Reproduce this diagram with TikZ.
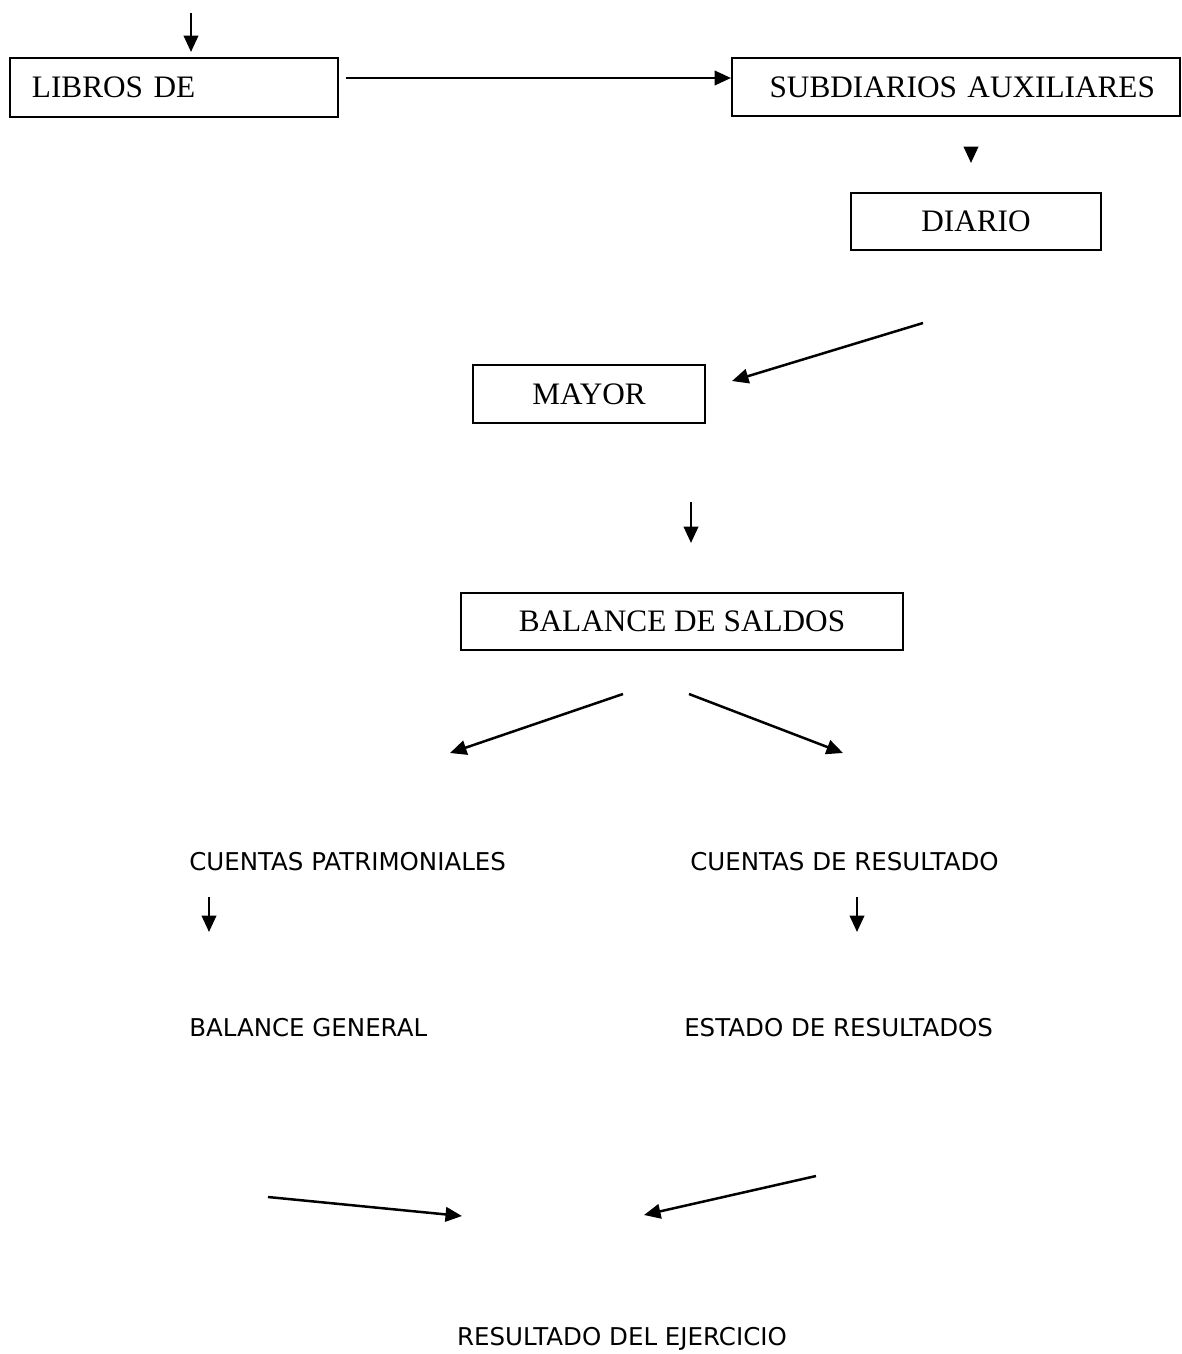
\documentclass[tikz,border=0pt]{standalone}
\usepackage{fontspec}
\setmainfont{Liberation Serif}
\newfontfamily\verdana{DejaVu Sans}
\usetikzlibrary{arrows.meta}

\tikzset{
  caja/.style={draw, line width=0.8pt, inner sep=0pt, font=\fontsize{12.5}{15}\selectfont},
  rotulo/.style={inner sep=0pt, anchor=west, font=\verdana\fontsize{9.8}{12}\selectfont},
}

\begin{document}
\begin{tikzpicture}[x=0.4pt, y=-0.4pt, >={Triangle[length=6.6pt,width=5.8pt]}, line width=1pt]
\useasboundingbox (0,0) rectangle (1181,1354);
% cajas
\node [caja, minimum width=131.2pt, minimum height=23.6pt, inner xsep=8.8pt, text width=113.6pt, align=left] (libros) at (174,87.5) {LIBROS DE};
\node [caja, minimum width=179.2pt, minimum height=23.2pt, inner xsep=10pt, text width=159.2pt, align=right] (subdiarios) at (956,87) {SUBDIARIOS AUXILIARES};
\node [caja, minimum width=100pt, minimum height=22.8pt] (diario) at (976,221.5) {DIARIO};
\node [caja, minimum width=92.8pt, minimum height=23.2pt] (mayor) at (589,394) {MAYOR};
\node [caja, minimum width=176.8pt, minimum height=22.8pt] (saldos) at (682,621.5) {BALANCE DE SALDOS};
% textos
\node [rotulo] (patrim) at (188,862) {CUENTAS PATRIMONIALES};
\node [rotulo] (cresult) at (689,862) {CUENTAS DE RESULTADO};
\node [rotulo] (bgeneral) at (188,1028) {BALANCE GENERAL};
\node [rotulo] (eresult) at (683,1028) {ESTADO DE RESULTADOS};
\node [rotulo, anchor=center] (ejercicio) at (622,1339) {RESULTADO DEL EJERCICIO};
% puntas de las flechas
\coordinate (f1a) at (191,13);   \coordinate (f1b) at (191,52);
\coordinate (f2a) at (346,78);   \coordinate (f2b) at (731,78);
\coordinate (f3a) at (971,147);  \coordinate (f3b) at (971,163);
\coordinate (f4a) at (923,323);  \coordinate (f4b) at (732,381);
\coordinate (f5a) at (691,502);  \coordinate (f5b) at (691,543);
\coordinate (f6a) at (623,694);  \coordinate (f6b) at (450,753);
\coordinate (f7a) at (689,694);  \coordinate (f7b) at (843,753);
\coordinate (f8a) at (209,897);  \coordinate (f8b) at (209,932);
\coordinate (f9a) at (857,897);  \coordinate (f9b) at (857,932);
\coordinate (f10a) at (268,1197); \coordinate (f10b) at (462,1216);
\coordinate (f11a) at (816,1176); \coordinate (f11b) at (644,1215);
% flechas
\foreach \n in {1,...,11}
  \draw [->] (f\n a) -- (f\n b);
\end{tikzpicture}
\end{document}
